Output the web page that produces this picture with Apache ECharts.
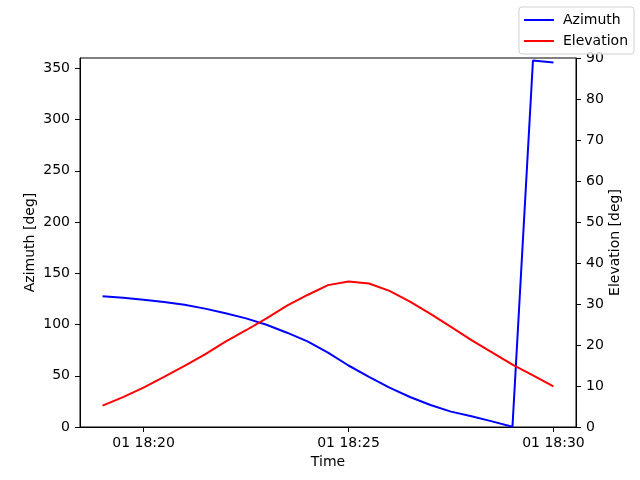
<!DOCTYPE html>
<html>
<head>
<meta charset="utf-8">
<script src="https://cdn.jsdelivr.net/npm/echarts@6/dist/echarts.min.js"></script>
<style>
  html, body { margin: 0; padding: 0; background: #fff; }
  #chart { width: 640px; height: 480px; }
</style>
</head>
<body>
<div id="chart"></div>
<script>
// Sample times: every 30 s from 18:19:00 to 18:30:00 (day 01)
const times = [
    '18:19:00', '18:19:30', '18:20:00', '18:20:30', '18:21:00', '18:21:30',
    '18:22:00', '18:22:30', '18:23:00', '18:23:30', '18:24:00', '18:24:30',
    '18:25:00', '18:25:30', '18:26:00', '18:26:30', '18:27:00', '18:27:30',
    '18:28:00', '18:28:30', '18:29:00', '18:29:30', '18:30:00'
];
const azimuth = [
    127.5, 126, 124.2, 122, 119.2, 115.5, 111, 106, 99.7, 92, 83.5, 72.5,
    60, 49, 38.5, 29.3, 21.5, 15, 10.5, 5.5, 0.3, 357.5, 355.5
];
const elevation = [
    5.2, 7.3, 9.6, 12.2, 14.9, 17.7, 20.8, 23.6, 26.5, 29.6, 32.2, 34.6,
    35.5, 35.0, 33.2, 30.6, 27.6, 24.4, 21.2, 18.2, 15.2, 12.6, 9.9
];
const xTicks = ['18:20:00', '18:25:00', '18:30:00'];
const azTicks = [0, 50, 100, 150, 200, 250, 300, 350];

// x range (matplotlib-like margins)
const xMin = '18:18:27';
const xMax = '18:30:33';

function ts(hms) {
    const [h, m, s] = hms.split(':').map(Number);
    return Date.UTC(2024, 0, 1, h, m, s);
}

function fmtTime(v) {
    const d = new Date(v);
    const pad = n => String(n).padStart(2, '0');
    return pad(d.getUTCDate()) + ' ' + pad(d.getUTCHours()) + ':' + pad(d.getUTCMinutes());
}

const chart = echarts.init(document.getElementById('chart'));

const font = 'DejaVu Sans';
const labelStyle = { color: '#000', fontFamily: font, fontSize: 14 };

const option = {
    backgroundColor: '#fff',
    animation: false,
    textStyle: { fontFamily: font },
    grid: {
        left: 80, right: 64, top: 58, bottom: 53,
        show: true, borderColor: '#000', borderWidth: 1,
        containLabel: false
    },
    legend: {
        data: ['Azimuth', 'Elevation'],
        orient: 'vertical',
        right: 6,
        top: 7,
        icon: 'rect',
        itemWidth: 30,
        itemHeight: 2,
        itemGap: 7,
        padding: [6, 6, 6, 5],
        borderColor: '#d0d0d0',
        borderWidth: 1,
        borderRadius: 3,
        backgroundColor: 'rgba(255,255,255,0.8)',
        textStyle: { color: '#000', fontFamily: font, fontSize: 14, lineHeight: 14, padding: [0, 0, 0, 4] }
    },
    xAxis: {
        type: 'value',
        min: ts(xMin),
        max: ts(xMax),
        name: 'Time',
        nameLocation: 'middle',
        nameGap: 28,
        nameMoveOverlap: false,
        nameTextStyle: labelStyle,
        axisLine: { show: true, lineStyle: { color: '#000', width: 1 } },
        axisTick: { show: true, length: 5, lineStyle: { color: '#000' }, customValues: xTicks.map(ts) },
        axisLabel: Object.assign({ margin: 9, formatter: fmtTime, customValues: xTicks.map(ts) }, labelStyle),
        splitLine: { show: false }
    },
    yAxis: [
        {
            type: 'value',
            min: 0,
            max: 360,
            name: 'Azimuth [deg]',
            nameLocation: 'middle',
            nameRotate: 90,
            nameGap: 43,
            nameMoveOverlap: false,
            nameTextStyle: labelStyle,
            axisLine: { show: true, lineStyle: { color: '#000', width: 1 } },
            axisTick: { show: true, length: 5, lineStyle: { color: '#000' }, customValues: azTicks },
            axisLabel: Object.assign({ margin: 10, customValues: azTicks }, labelStyle),
            splitLine: { show: false }
        },
        {
            type: 'value',
            min: 0,
            max: 90,
            interval: 10,
            name: 'Elevation [deg]',
            nameLocation: 'middle',
            nameRotate: 90,
            nameGap: 32,
            nameMoveOverlap: false,
            nameTextStyle: labelStyle,
            axisLine: { show: true, lineStyle: { color: '#000', width: 1 } },
            axisTick: { show: true, length: 5, lineStyle: { color: '#000' } },
            axisLabel: Object.assign({ margin: 10 }, labelStyle),
            splitLine: { show: false }
        }
    ],
    series: [
        {
            name: 'Azimuth',
            type: 'line',
            yAxisIndex: 0,
            data: times.map((t, i) => [ts(t), azimuth[i]]),
            showSymbol: false,
            symbol: 'none',
            itemStyle: { color: '#0000ff' },
            lineStyle: { color: '#0000ff', width: 2 }
        },
        {
            name: 'Elevation',
            type: 'line',
            yAxisIndex: 1,
            data: times.map((t, i) => [ts(t), elevation[i]]),
            showSymbol: false,
            symbol: 'none',
            itemStyle: { color: '#ff0000' },
            lineStyle: { color: '#ff0000', width: 2 }
        }
    ]
};

chart.setOption(option);
</script>
</body>
</html>
